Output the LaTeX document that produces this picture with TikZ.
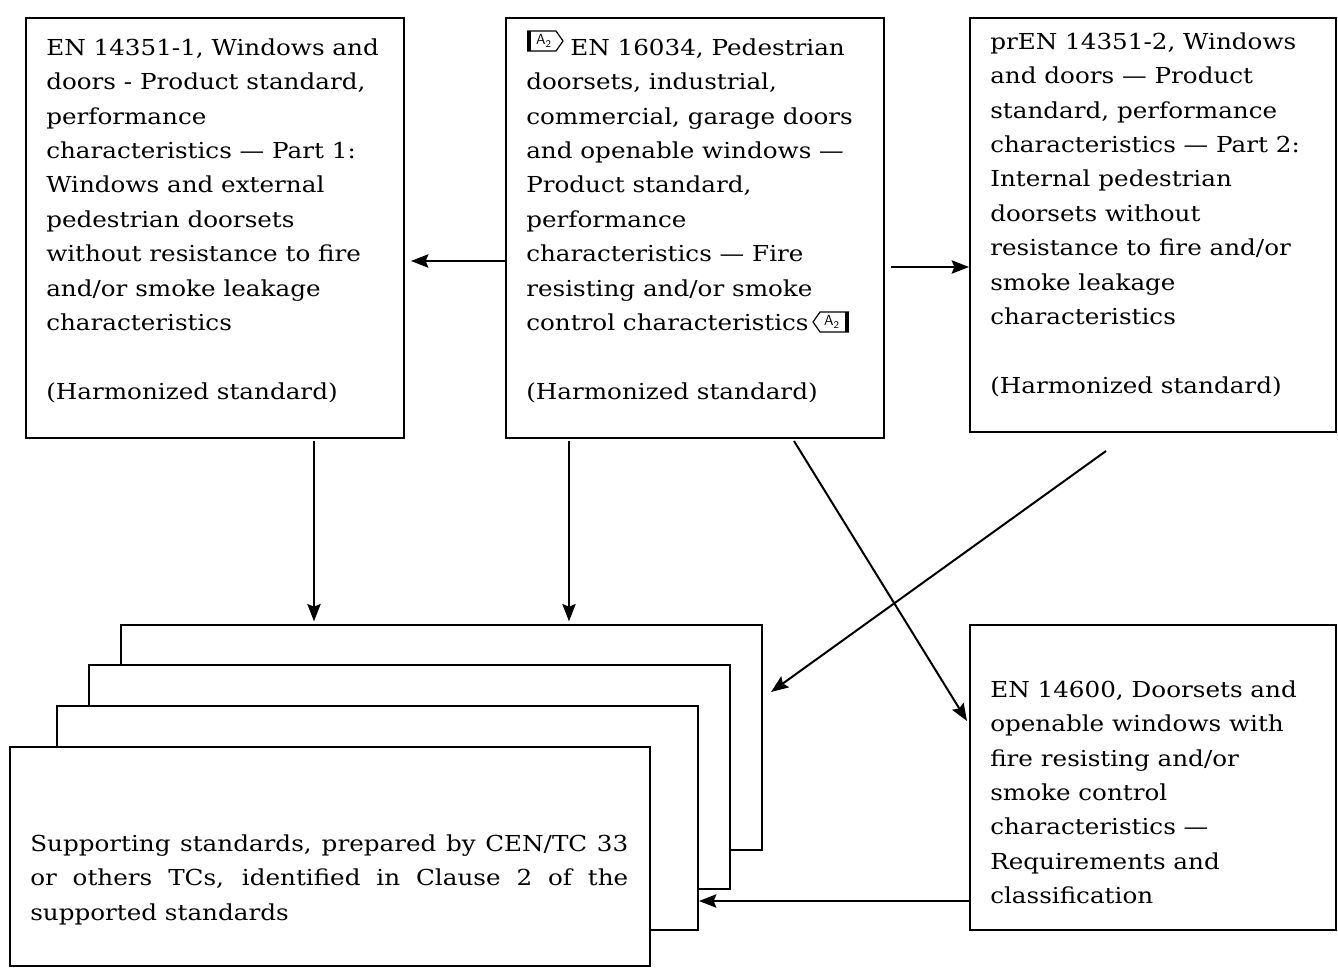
\documentclass[tikz,border=0pt]{standalone}
\usepackage{fontspec}
\setmainfont{DejaVu Serif}[FakeStretch=1.12]
\usepackage{tikz}
\usetikzlibrary{arrows.meta,calc,fit}

\tikzset{
  stdbox/.style={draw, line width=1.5pt, fill=white, inner sep=0pt},
  stdtext/.style={anchor=north west, inner sep=0pt, align=left,
    font=\fontsize{16.5}{25.8}\selectfont},
  link/.style={line width=1.5pt, -{Stealth[length=13pt,width=10pt,inset=2pt]}},
  atwoopen/.pic={
    \fill (0,0) rectangle (4,-20);
    \draw[line width=0.9pt] (0,0) -- (29,0) -- (36,-10) -- (29,-20) -- (0,-20);
    \node[inner sep=0pt,font=\sffamily\fontsize{11}{11}\selectfont] (-tag) at (17,-10) {A\textsubscript{2}};
  },
  atwoclose/.pic={
    \fill (36,0) rectangle (32,-20);
    \draw[line width=0.9pt] (36,0) -- (7,0) -- (0,-10) -- (7,-20) -- (36,-20);
    \node[inner sep=0pt,font=\sffamily\fontsize{11}{11}\selectfont] (-tag) at (19,-10) {A\textsubscript{2}};
  }
}

\begin{document}
\begin{tikzpicture}[x=0.75pt,y=-0.75pt]
\useasboundingbox (0,0) rectangle (1338,967);

% Boxes
\node[stdbox, fit={(26,18) (404,438)}] (boxA) {};
\node[stdbox, fit={(506,18) (884,438)}] (boxB) {};
\node[stdbox, fit={(970,18) (1336,432)}] (boxC) {};
\node[stdbox, fit={(970,625) (1336,930)}] (boxD) {};
% Stack of supporting standards
\node[stdbox, fit={(121,625) (762,850)}] (stackA) {};
\node[stdbox, fit={(89,665) (730,889)}] (stackB) {};
\node[stdbox, fit={(57,706) (698,930)}] (stackC) {};
\node[stdbox, fit={(10,747) (650,966)}] (front) {};

% Text Node
\node[stdtext] (txtA) at ($(boxA.north west)+(21,14)$) {\strut EN 14351-1, Windows and\\
doors - Product standard,\\
performance\\
characteristics — Part 1:\\
Windows and external\\
pedestrian doorsets\\
without resistance to fire\\
and/or smoke leakage\\
characteristics\\[25.8pt]
(Harmonized standard)};
% Text Node
\node[stdtext] (txtB) at ($(boxB.north west)+(21,14)$) {\strut\hspace*{33pt}EN 16034, Pedestrian\\
doorsets, industrial,\\
commercial, garage doors\\
and openable windows —\\
Product standard,\\
performance\\
characteristics — Fire\\
resisting and/or smoke\\
control characteristics\\[25.8pt]
(Harmonized standard)};
% Amendment markers
\pic (mkopen) at ($(boxB.north west)+(22,34)$) {atwoopen};
\pic (mkclose) at ($(boxB.north west)+(308,315)$) {atwoclose};
% Text Node
\node[stdtext] (txtC) at ($(boxC.north west)+(21,8)$) {\strut prEN 14351-2, Windows\\
and doors — Product\\
standard, performance\\
characteristics — Part 2:\\
Internal pedestrian\\
doorsets without\\
resistance to fire and/or\\
smoke leakage\\
characteristics\\[25.8pt]
(Harmonized standard)};
% Text Node
\node[stdtext] (txtD) at ($(boxD.north west)+(21,49)$) {\strut EN 14600, Doorsets and\\
openable windows with\\
fire resisting and/or\\
smoke control\\
characteristics —\\
Requirements and\\
classification};
% Text Node
\node[stdtext] (txtF) at ($(front.north west)+(21,81)$) {\strut\makebox[448.5pt][s]{Supporting standards, prepared by CEN/TC 33}\\
\makebox[448.5pt][s]{or others TCs, identified in Clause 2 of the}\\
supported standards};

% Connection points
\coordinate (aout) at ($(boxA.south west)+(289,2)$);
\coordinate (bout) at ($(boxB.south west)+(64,2)$);
\coordinate (bdiag) at ($(boxB.south west)+(289,2)$);
\coordinate (cdiag) at ($(boxC.south west)+(137,18)$);
\coordinate (dleft) at ($(boxD.south west)+(0,-30)$);

% Connection
\draw[link] ($(boxB.north west)+(0,244)$) -- ($(boxA.north east)+(6,244)$);
% Connection
\draw[link] ($(boxB.north east)+(6,250)$) -- ($(boxC.north west)+(0,250)$);
% Connection
\draw[link, shorten >=2pt] (aout) -- (aout |- stackA.north);
% Connection
\draw[link, shorten >=2pt] (bout) -- (bout |- stackA.north);
% Connection
\draw[link] (bdiag) -- ($(boxD.north west)+(-2,97)$);
% Connection
\draw[link] (cdiag) -- ($(stackA.north east)+(8,68)$);
% Connection
\draw[link] (dleft) -- (dleft -| stackC.east);

\end{tikzpicture}
\end{document}
